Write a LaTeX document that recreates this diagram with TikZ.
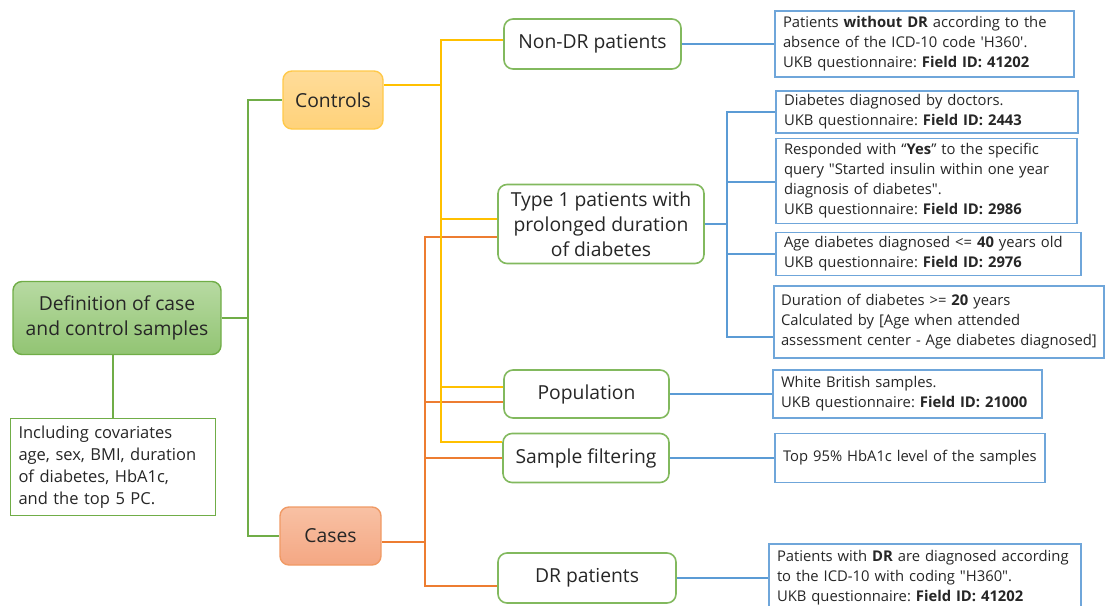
\documentclass[tikz,border=0pt]{standalone}
\usepackage{fontspec}
\setmainfont{Open Sans}
\frenchspacing
\usetikzlibrary{calc}
\definecolor{txt}{HTML}{262626}
\definecolor{grnline}{HTML}{70AD47}
\definecolor{grnbord}{HTML}{82B95E}
\definecolor{yelline}{HTML}{FFC000}
\definecolor{oraline}{HTML}{ED7D31}
\definecolor{bluline}{HTML}{5B9BD5}
\definecolor{bluebord}{HTML}{6FA6DA}
\definecolor{mainT}{HTML}{B7DAA2}
\definecolor{mainB}{HTML}{92C473}
\definecolor{ctrlT}{HTML}{FFDC99}
\definecolor{ctrlB}{HTML}{FFD27A}
\definecolor{ctrlD}{HTML}{FFC94A}
\definecolor{caseT}{HTML}{F8C1A4}
\definecolor{caseB}{HTML}{F4A783}
\definecolor{caseD}{HTML}{F09A65}
\begin{document}
\begin{tikzpicture}[x=1pt,y=-1pt,
  grn/.style={draw=grnline,line width=2pt},
  yel/.style={draw=yelline,line width=2pt},
  ora/.style={draw=oraline,line width=2pt},
  blu/.style={draw=bluline,line width=2pt},
  mid/.style={draw=grnbord,line width=1.6pt,rounded corners=9pt,fill=white,
    text=txt,font=\fontsize{19.3}{25}\selectfont,align=center,inner sep=0pt},
  info/.style={draw=bluebord,line width=1.6pt,fill=white,text=txt,
    font=\fontsize{14.8}{20}\selectfont,align=left,inner xsep=8pt,inner ysep=0pt},
  top/.style={rounded corners=9pt,text=txt,font=\fontsize{19.3}{25}\selectfont,
    align=center,inner sep=0pt,line width=1.4pt}
]
\useasboundingbox (0,0) rectangle (1105,605);

% level 0
\node[top,draw=grnline,top color=mainT,bottom color=mainB,
  minimum width=208pt,minimum height=73pt] (main) at (117,318)
  {Definition of case\\and control samples};
\node[draw=grnline,line width=1.6pt,fill=white,text=txt,
  font=\fontsize{16.5}{22}\selectfont,align=left,inner xsep=8pt,
  minimum width=205pt,minimum height=97pt,text width=189pt] (cov) at (113,467)
  {Including covariates\\age, sex, BMI, duration\\of diabetes, HbA1c,\\and the top 5 PC.};

% level 1
\node[top,draw=ctrlD,top color=ctrlT,bottom color=ctrlB,
  minimum width=100pt,minimum height=58pt] (controls) at (333,100) {Controls};
\node[top,draw=caseD,top color=caseT,bottom color=caseB,
  minimum width=101pt,minimum height=58pt] (cases) at (330.5,536) {Cases};

% level 2
\node[mid,minimum width=177pt,minimum height=50pt] (nondr) at (592.5,44) {Non-DR patients};
\node[mid,minimum width=206pt,minimum height=79pt] (type1) at (601,224)
  {Type 1 patients with\\prolonged duration\\of diabetes};
\node[mid,minimum width=165pt,minimum height=48pt] (pop) at (586.5,394) {Population};
\node[mid,minimum width=166pt,minimum height=49pt] (filt) at (586,458) {Sample filtering};
\node[mid,minimum width=178pt,minimum height=50pt] (drp) at (587,578) {DR patients};

% level 3
\node[info,minimum width=299pt,minimum height=66pt,text width=283pt] (b1) at (924.5,44)
  {Patients \textbf{without DR} according to the\\absence of the ICD-10 code \textquotesingle H360\textquotesingle.\\UKB questionnaire: \textbf{Field ID: 41202}};
\node[info,minimum width=302pt,minimum height=42pt,text width=286pt] (b2) at (927,112)
  {Diabetes diagnosed by doctors.\\UKB questionnaire: \textbf{Field ID: 2443}};
\node[info,minimum width=301pt,minimum height=85pt,text width=285pt] (b3) at (926.5,181)
  {Responded with “\textbf{Yes}” to the specific\\query \textquotedbl Started insulin within one year\\diagnosis of diabetes\textquotedbl.\\UKB questionnaire: \textbf{Field ID: 2986}};
\node[info,minimum width=305pt,minimum height=43pt,text width=289pt] (b4) at (928.5,254)
  {Age diabetes diagnosed <= \textbf{40} years old\\UKB questionnaire: \textbf{Field ID: 2976}};
\node[info,minimum width=330pt,minimum height=72pt,text width=316pt,inner xsep=7pt] (b5) at (939,322)
  {Duration of diabetes >= \textbf{20} years\\Calculated by [Age when attended\\assessment center - Age diabetes diagnosed]};
\node[info,minimum width=269pt,minimum height=48pt,text width=253pt] (b6) at (907.5,394)
  {White British samples.\\UKB questionnaire: \textbf{Field ID: 21000}};
\node[info,minimum width=270pt,minimum height=49pt,text width=254pt] (b7) at (910,458)
  {Top 95\% HbA1c level of the samples};
\node[info,minimum width=312pt,minimum height=68pt,text width=296pt] (b8) at (925,578)
  {Patients with \textbf{DR} are diagnosed according\\to the ICD-10 with coding \textquotedbl H360\textquotedbl.\\UKB questionnaire: \textbf{Field ID: 41202}};

% trunk coordinates
\coordinate (gtr) at (248,0);
\coordinate (ytr) at (441,0);
\coordinate (otr) at (425,0);
\coordinate (btr) at (727,0);
\coordinate (ctrlout) at ($(controls.east)+(0,-15)$);
\coordinate (caseout) at ($(cases.east)+(0,6)$);

% green
\draw[grn] (cov.north |- main.south) -- (cov.north);
\draw[grn] (main.east) -- (main.east -| gtr);
\draw[grn] (main.east -| gtr) |- (controls.west);
\draw[grn] (main.east -| gtr) |- (cases.west);

% orange (cases)
\draw[ora] (caseout) -- (caseout -| otr);
\draw[ora] (caseout -| otr) |- ($(type1.west)+(0,13)$);
\draw[ora] (caseout -| otr) |- ($(pop.west)+(0,8)$);
\draw[ora] (caseout -| otr) |- (filt.west);
\draw[ora] (caseout -| otr) |- ($(drp.west)+(0,8)$);

% yellow (controls)
\draw[yel] (ctrlout) -- (ctrlout -| ytr);
\draw[yel] (ctrlout -| ytr) |- ($(nondr.west)+(0,-4)$);
\draw[yel] (ctrlout -| ytr) |- ($(type1.west)+(0,-5)$);
\draw[yel] (ctrlout -| ytr) |- ($(pop.west)+(0,-7)$);
\draw[yel] (ctrlout -| ytr) |- ($(filt.west)+(0,-16)$);

% blue
\draw[blu] (nondr.east) -- (nondr.east -| b1.west);
\draw[blu] (type1.east) -- (type1.east -| btr);
\draw[blu] (type1.east -| btr) |- (b2.west);
\draw[blu] (type1.east -| btr) |- ($(b3.west)+(0,1)$);
\draw[blu] (type1.east -| btr) |- (b4.west);
\draw[blu] (type1.east -| btr) |- ($(b5.west)+(0,15)$);
\draw[blu] (pop.east) -- (pop.east -| b6.west);
\draw[blu] (filt.east) -- (filt.east -| b7.west);
\draw[blu] (drp.east) -- (drp.east -| b8.west);
\end{tikzpicture}
\end{document}
